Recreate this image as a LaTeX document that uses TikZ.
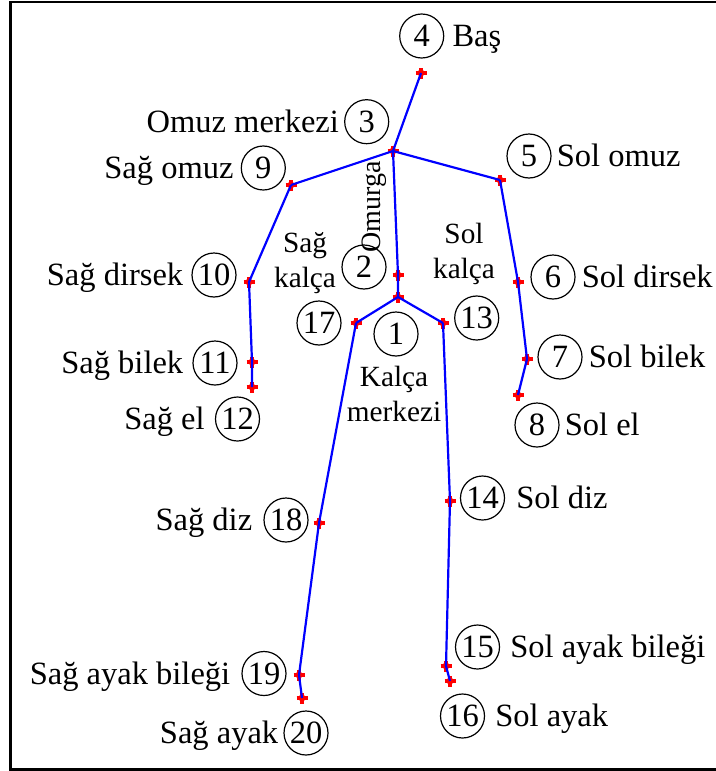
\documentclass[tikz,border=0pt]{standalone}
\usepackage{fontspec}
\setmainfont{Liberation Serif}
\usetikzlibrary{calc}
\begin{document}
\begin{tikzpicture}[x=1pt,y=-1pt,
  bone/.style={blue, line width=2.2pt},
  num/.style={circle, draw, line width=1.2pt, minimum size=44pt, inner sep=0pt, font=\fontsize{32.5}{34}\selectfont},
  lbl/.style={inner sep=0pt, font=\fontsize{32.5}{34}\selectfont},
  inlbl/.style={inner sep=0pt, align=center, font=\fontsize{29.3}{35}\selectfont},
  frame/.style={line width=2.3pt, black}
]
\useasboundingbox (0,0) rectangle (715,771);
\draw[frame] (10.5,2.2) rectangle (740,769.5);

% joints
\coordinate (j1) at (398,297);
\coordinate (j2) at (398,275);
\coordinate (j3) at (393,151);
\coordinate (j4) at (421,73);
\coordinate (j5) at (500,180);
\coordinate (j6) at (518,282);
\coordinate (j7) at (527,359);
\coordinate (j8) at (518,395);
\coordinate (j9) at (291,185);
\coordinate (j10) at (249,282);
\coordinate (j11) at (252,362);
\coordinate (j12) at (252,387);
\coordinate (j13) at (443,323);
\coordinate (j14) at (450,501);
\coordinate (j15) at (446,666);
\coordinate (j16) at (450,681);
\coordinate (j17) at (356,323);
\coordinate (j18) at (319,523);
\coordinate (j19) at (299,675);
\coordinate (j20) at (302,698);

% markers
\foreach \j in {1,...,20} {
  \draw[red, line width=4pt] ([xshift=-5.5pt]j\j) -- ([xshift=5.5pt]j\j);
  \draw[red, line width=4pt] ([yshift=-5.5pt]j\j) -- ([yshift=5.5pt]j\j);
  \fill[red] (j\j) circle (3.5pt);
}

% bones
\draw[bone] (j4) -- (j3);
\draw[bone] (j9) -- (j3) -- (j5);
\draw[bone] (j3) -- (j2) -- (j1);
\draw[bone] (j17) -- (j1) -- (j13);
\draw[bone] (j9) -- (j10) -- (j11) -- (j12);
\draw[bone] (j5) -- (j6) -- (j7) -- (j8);
\draw[bone] (j17) -- (j18) -- (j19) -- (j20);
\draw[bone] (j13) -- (j14) -- (j15) -- (j16);

% numbered circles
\node[num] (n1) at (396,334) {1};
\node[num] (n2) at (364,267) {2};
\node[num] (n3) at (366.7,121.7) {3};
\node[num] (n4) at (421.7,36) {4};
\node[num] (n5) at (529,156) {5};
\node[num] (n6) at (553,277) {6};
\node[num] (n7) at (560,357) {7};
\node[num] (n8) at (537,425) {8};
\node[num] (n9) at (263.3,168) {9};
\node[num] (n10) at (214,275) {10};
\node[num] (n11) at (215,363) {11};
\node[num] (n12) at (237.5,419) {12};
\node[num] (n13) at (476.7,318) {13};
\node[num] (n14) at (482.5,498) {14};
\node[num] (n15) at (477.5,647) {15};
\node[num] (n16) at (462.5,716) {16};
\node[num] (n17) at (319,323) {17};
\node[num] (n18) at (286,520) {18};
\node[num] (n19) at (264,673.5) {19};
\node[num] (n20) at (306,733) {20};

% labels
\node[lbl, anchor=base west] (l4) at ($(n4.base east)+(8,0)$) {Baş};
\node[lbl, anchor=base east] (l3) at ($(n3.base west)+(-5,0)$) {Omuz merkezi};
\node[lbl, anchor=base east] (l9) at ($(n9.base west)+(-7,0)$) {Sağ omuz};
\node[lbl, anchor=base west] (l5) at ($(n5.base east)+(5,0)$) {Sol omuz};
\node[lbl, anchor=base east] (l10) at ($(n10.base west)+(-8,0)$) {Sağ dirsek};
\node[lbl, anchor=base west] (l6) at ($(n6.base east)+(6,0)$) {Sol dirsek};
\node[lbl, anchor=base east] (l11) at ($(n11.base west)+(-9,0)$) {Sağ bilek};
\node[lbl, anchor=base west] (l7) at ($(n7.base east)+(6,0)$) {Sol bilek};
\node[lbl, anchor=base east] (l12) at ($(n12.base west)+(-10,0)$) {Sağ el};
\node[lbl, anchor=base west] (l8) at ($(n8.base east)+(5,0)$) {Sol el};
\node[lbl, anchor=base east] (l18) at ($(n18.base west)+(-11,0)$) {Sağ diz};
\node[lbl, anchor=base west] (l14) at ($(n14.base east)+(11,0)$) {Sol diz};
\node[lbl, anchor=base east] (l19) at ($(n19.base west)+(-11,0)$) {Sağ ayak bileği};
\node[lbl, anchor=base west] (l15) at ($(n15.base east)+(10,0)$) {Sol ayak bileği};
\node[lbl, anchor=base east] (l20) at ($(n20.base west)+(-5,0)$) {Sağ ayak};
\node[lbl, anchor=base west] (l16) at ($(n16.base east)+(10,0)$) {Sol ayak};

% inner labels
\node[inlbl] (sagkalca) at (305,263) {Sağ\\kalça};
\node[inlbl] (solkalca) at (464,254) {Sol\\kalça};
\node[inlbl] (kalcamerkezi) at (394,394) {Kalça\\merkezi};
\node[inner sep=0pt, rotate=90, font=\fontsize{28}{30}\selectfont] (omurga) at (374,207) {Omurga};
\end{tikzpicture}
\end{document}
